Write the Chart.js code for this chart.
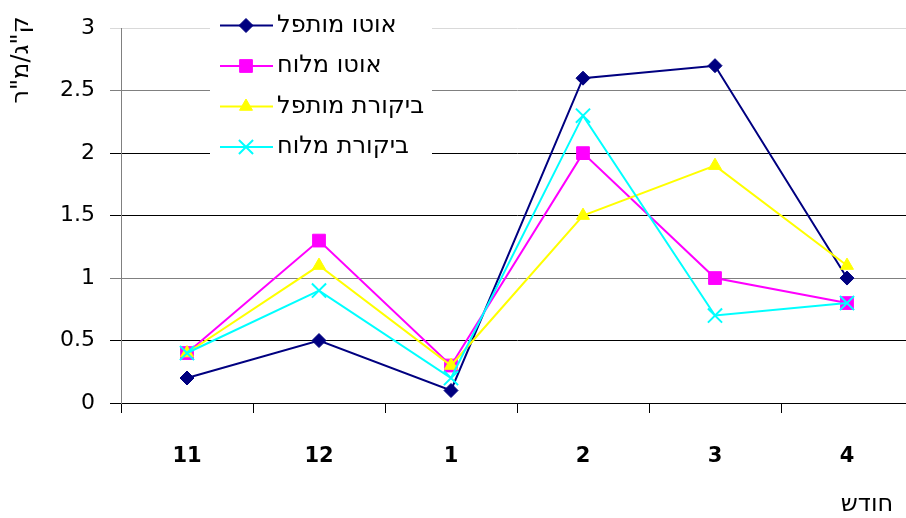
<!DOCTYPE html>
<html>
<head>
<meta charset="utf-8">
<script src="https://cdn.jsdelivr.net/npm/chart.js@4/dist/chart.umd.min.js"></script>
<style>
  html, body { margin: 0; padding: 0; background: #fff; overflow: hidden; }
  #wrap { width: 906px; height: 518px; overflow: hidden; }
</style>
</head>
<body>
<div id="wrap"><canvas id="chart" width="930" height="518"></canvas></div>
<script>
const months = ['11', '12', '1', '2', '3', '4'];
const autoMutpal = [0.2, 0.5, 0.1, 2.6, 2.7, 1.0];
const autoMaluach = [0.4, 1.3, 0.3, 2.0, 1.0, 0.8];
const bikoretMutpal = [0.4, 1.1, 0.3, 1.5, 1.9, 1.1];
const bikoretMaluach = [0.4, 0.9, 0.2, 2.3, 0.7, 0.8];
const seriesNames = ['אוטו מותפל', 'אוטו מלוח', 'ביקורת מותפל', 'ביקורת מלוח'];
const yTicks = [0, 0.5, 1, 1.5, 2, 2.5, 3];
const yTitle = 'ק"ג/מ"ר';
const xTitle = 'חודש';

const FONT = "'DejaVu Sans', Verdana, sans-serif";

// gridline shades per value
const gridShade = { 3: '#d9d9d9', 2.5: '#808080', 2: '#000', 1.5: '#000', 1: '#808080', 0.5: '#000', 0: '#000' };

function series(label, data, color, style, radius, order, bw) {
    return {
        label: label,
        data: data,
        borderColor: color,
        backgroundColor: color,
        borderWidth: 2,
        pointStyle: style,
        pointRadius: radius,
        pointHoverRadius: radius,
        pointBackgroundColor: color,
        pointBorderColor: color,
        pointBorderWidth: bw,
        tension: 0,
        order: order
    };
}

// legend box + axis titles, drawn on the canvas
const extras = {
    id: 'extras',
    afterDraw(chart) {
        const ctx = chart.ctx;
        ctx.save();
        ctx.fillStyle = '#fff';
        ctx.fillRect(210, 0, 222, 165);
        chart.data.datasets.forEach((ds, i) => {
            const y = 25.5 + i * 40.5;
            ctx.strokeStyle = ds.borderColor;
            ctx.lineWidth = 2;
            ctx.beginPath();
            ctx.moveTo(220, y);
            ctx.lineTo(273, y);
            ctx.stroke();
            ctx.fillStyle = ds.borderColor;
            ctx.lineWidth = ds.pointBorderWidth;
            Chart.helpers.drawPoint(ctx, { pointStyle: ds.pointStyle, radius: ds.pointRadius, borderWidth: ds.pointBorderWidth, rotation: 0 }, 246, y);
            ctx.fillStyle = '#000';
            ctx.font = '24px ' + FONT;
            ctx.textAlign = 'left';
            ctx.textBaseline = 'middle';
            ctx.fillText(ds.label, 277, y);
        });

        ctx.fillStyle = '#000';
        ctx.font = '24px ' + FONT;
        ctx.save();
        ctx.translate(22, 60);
        ctx.rotate(-Math.PI / 2);
        ctx.textAlign = 'center';
        ctx.textBaseline = 'middle';
        ctx.fillText(yTitle, 0, 0);
        ctx.restore();

        ctx.textAlign = 'center';
        ctx.textBaseline = 'middle';
        ctx.fillText(xTitle, 867, 505);
        ctx.restore();
    }
};

new Chart(document.getElementById('chart'), {
    type: 'line',
    data: {
        labels: months,
        datasets: [
            series(seriesNames[0], autoMutpal, '#000080', 'rectRot', 7, 4, 1),
            series(seriesNames[1], autoMaluach, '#ff00ff', 'rect', 9, 3, 1),
            series(seriesNames[2], bikoretMutpal, '#ffff00', 'triangle', 7.5, 2, 1),
            series(seriesNames[3], bikoretMaluach, '#00ffff', 'crossRot', 10, 1, 2)
        ]
    },
    options: {
        responsive: false,
        animation: false,
        devicePixelRatio: 1,
        layout: { padding: { top: 22, right: 17, left: 0, bottom: 0 } },
        plugins: { legend: { display: false }, tooltip: { enabled: false } },
        scales: {
            x: {
                offset: true,
                grid: { drawOnChartArea: false, offset: true, tickLength: 10, color: '#000', lineWidth: 1 },
                border: { color: '#000' },
                ticks: { color: '#000', font: { family: FONT, size: 21, weight: 'bold' }, padding: 31, maxRotation: 0 },
                afterFit(scale) { scale.height = 115; }
            },
            y: {
                min: 0,
                max: 3,
                afterBuildTicks(scale) { scale.ticks = yTicks.map(v => ({ value: v })); },
                grid: {
                    tickLength: 11,
                    lineWidth: 1,
                    color: c => gridShade[c.tick.value] || '#000'
                },
                border: { color: '#808080' },
                ticks: {
                    color: '#000',
                    font: { family: FONT, size: 22 },
                    padding: 15,
                    callback: v => String(v)
                },
                afterFit(scale) { scale.width = 121; }
            }
        }
    },
    plugins: [extras]
});
</script>
</body>
</html>
